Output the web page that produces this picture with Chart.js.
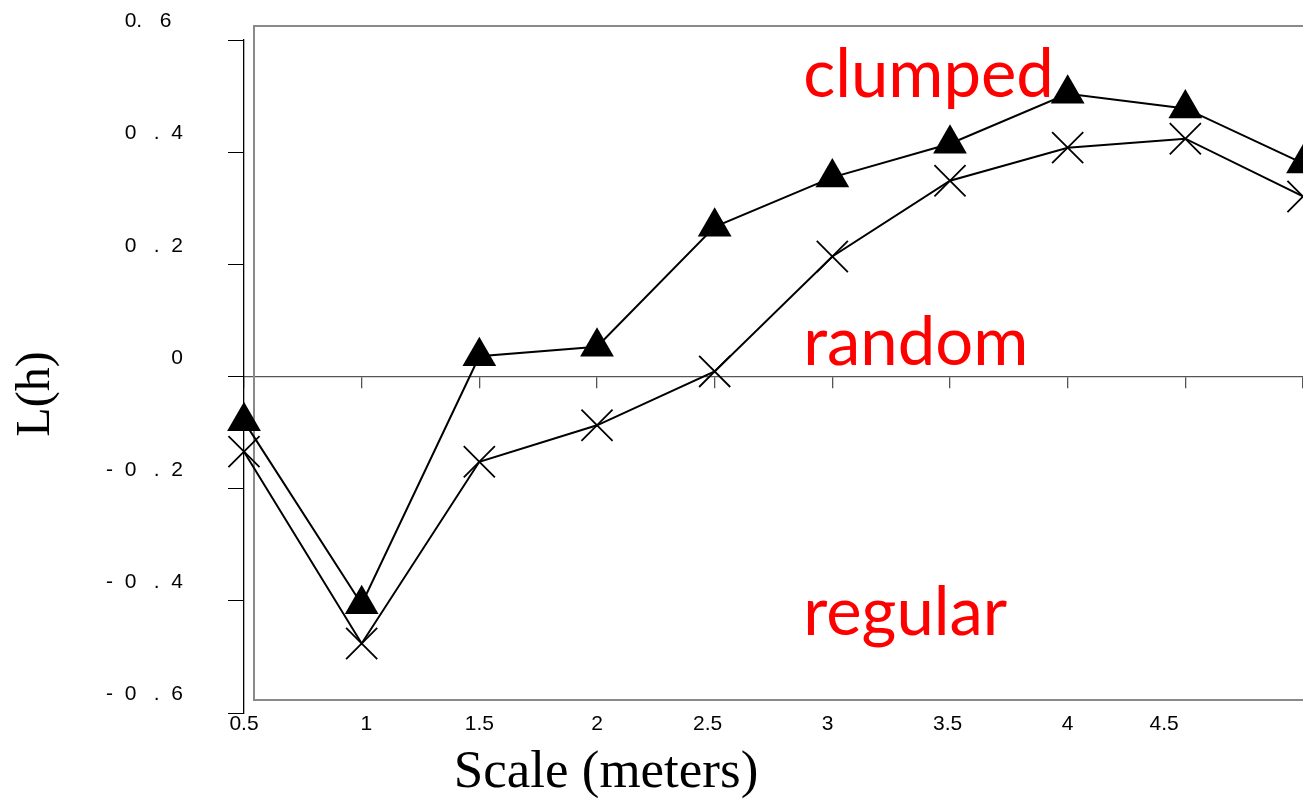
<!DOCTYPE html>
<html>
<head>
<meta charset="utf-8">
<script src="https://cdn.jsdelivr.net/npm/chart.js@4.4.0/dist/chart.umd.min.js"></script>
<style>
  html, body { margin: 0; padding: 0; background: #fff; overflow: hidden; }
  canvas { display: block; }
</style>
</head>
<body>
<canvas id="chart" width="1340" height="800"></canvas>
<script>
// L(h) por escala
const scaleMeters = [0.5, 1, 1.5, 2, 2.5, 3, 3.5, 4, 4.5, 5];
const lhTriangle = [-0.080, -0.406, 0.036, 0.053, 0.267, 0.355, 0.415, 0.504, 0.478, 0.380];
const lhCross = [-0.134, -0.476, -0.152, -0.087, 0.009, 0.214, 0.349, 0.408, 0.424, 0.321];

const yTickValues = [-0.6, -0.4, -0.2, 0, 0.2, 0.4, 0.6];
const yTickLabels = ["-  0   .  6", "-  0   .  4", "-  0   .  2", "0", "0   .  2", "0   .  4", "0.   6  "];
const xTickValues = [0.5, 1.02, 1.5, 2, 2.47, 2.98, 3.49, 4, 4.41];
const xTickLabels = ["0.5", "1", "1.5", "2", "2.5", "3", "3.5", "4", "4.5"];

const zoneLabels = ["clumped", "random", "regular"];

const decor = {
    id: 'decor',
    beforeDatasetsDraw(chart) {
        const { ctx, chartArea: a, scales } = chart;
        ctx.save();
        // marco gris
        ctx.strokeStyle = '#8a8a8a';
        ctx.lineWidth = 2;
        ctx.strokeRect(a.left + 10, a.top - 14, chart.width, a.bottom - a.top - 13 + 14);
        // etiquetas de zona
        const zx = [2.876, 2.876, 2.876];
        const zy = [0.498, 0.020, -0.461];
        ctx.fillStyle = '#ff0000';
        ctx.font = '67px Lato';
        ctx.textAlign = 'left';
        ctx.textBaseline = 'alphabetic';
        zoneLabels.forEach((t, i) => {
            ctx.fillText(t, scales.x.getPixelForValue(zx[i]), scales.y.getPixelForValue(zy[i]));
        });
        ctx.restore();
    },
    afterDraw(chart) {
        const { ctx } = chart;
        ctx.save();
        ctx.fillStyle = '#000';
        ctx.textAlign = 'center';
        ctx.textBaseline = 'alphabetic';
        ctx.font = '53px "Liberation Serif"';
        ctx.fillText('Scale (meters)', 606, 787);
        ctx.translate(36, 394);
        ctx.rotate(-Math.PI / 2);
        ctx.textBaseline = 'middle';
        ctx.font = '48px "Liberation Serif"';
        ctx.fillText('L(h)', 0, 0);
        ctx.restore();
    }
};

new Chart(document.getElementById('chart'), {
    type: 'line',
    data: {
        datasets: [{
            data: scaleMeters.map((s, i) => ({ x: s, y: lhTriangle[i] })),
            borderColor: '#000',
            borderWidth: 2,
            pointStyle: 'triangle',
            pointRadius: 19.5,
            pointBackgroundColor: '#000',
            pointBorderColor: '#000',
            pointBorderWidth: 0,
            tension: 0,
            clip: false,
        }, {
            data: scaleMeters.map((s, i) => ({ x: s, y: lhCross[i] })),
            borderColor: '#000',
            borderWidth: 2,
            pointStyle: 'crossRot',
            pointRadius: 22,
            pointBorderColor: '#000',
            pointBorderWidth: 1.8,
            tension: 0,
            clip: false,
        }]
    },
    options: {
        responsive: false,
        animation: false,
        layout: { padding: { top: 40, right: 37, left: 0, bottom: 0 } },
        plugins: { legend: { display: false }, tooltip: { enabled: false } },
        scales: {
            x: {
                type: 'linear',
                min: 0.5,
                max: 5,
                position: { y: 0 },
                afterBuildTicks: (axis) => { axis.ticks = scaleMeters.map(v => ({ value: v })); },
                grid: { drawOnChartArea: false, drawTicks: true, tickLength: 11, color: '#555', lineWidth: 1.3 },
                border: { display: true, color: '#555', width: 1.3 },
                ticks: { display: false },
            },
            xl: {
                type: 'linear',
                axis: 'x',
                min: 0.5,
                max: 5,
                position: 'bottom',
                afterBuildTicks: (axis) => { axis.ticks = xTickValues.map(v => ({ value: v })); },
                afterFit: (axis) => { axis.height = 87; axis.paddingLeft = 0; axis.paddingRight = 0; },
                grid: { display: false, drawTicks: false },
                border: { display: false },
                ticks: {
                    autoSkip: false,
                    maxRotation: 0,
                    padding: -1,
                    color: '#000',
                    font: { family: '"Liberation Sans"', size: 21 },
                    callback: (v, i) => xTickLabels[i],
                },
            },
            y: {
                min: -0.6,
                max: 0.6,
                position: 'left',
                afterBuildTicks: (axis) => { axis.ticks = yTickValues.map(v => ({ value: v })); },
                afterFit: (axis) => { axis.width = 244; axis.paddingTop = 0; axis.paddingBottom = 0; },
                grid: { drawOnChartArea: false, drawTicks: true, tickLength: 16, color: '#000', lineWidth: 1 },
                border: { display: true, color: '#000', width: 1.3 },
                ticks: {
                    autoSkip: false,
                    padding: 45,
                    labelOffset: -18.5,
                    color: '#000',
                    font: { family: '"Liberation Sans"', size: 21 },
                    callback: (v, i) => yTickLabels[i],
                },
            },
        },
    },
    plugins: [decor],
});
</script>
</body>
</html>
